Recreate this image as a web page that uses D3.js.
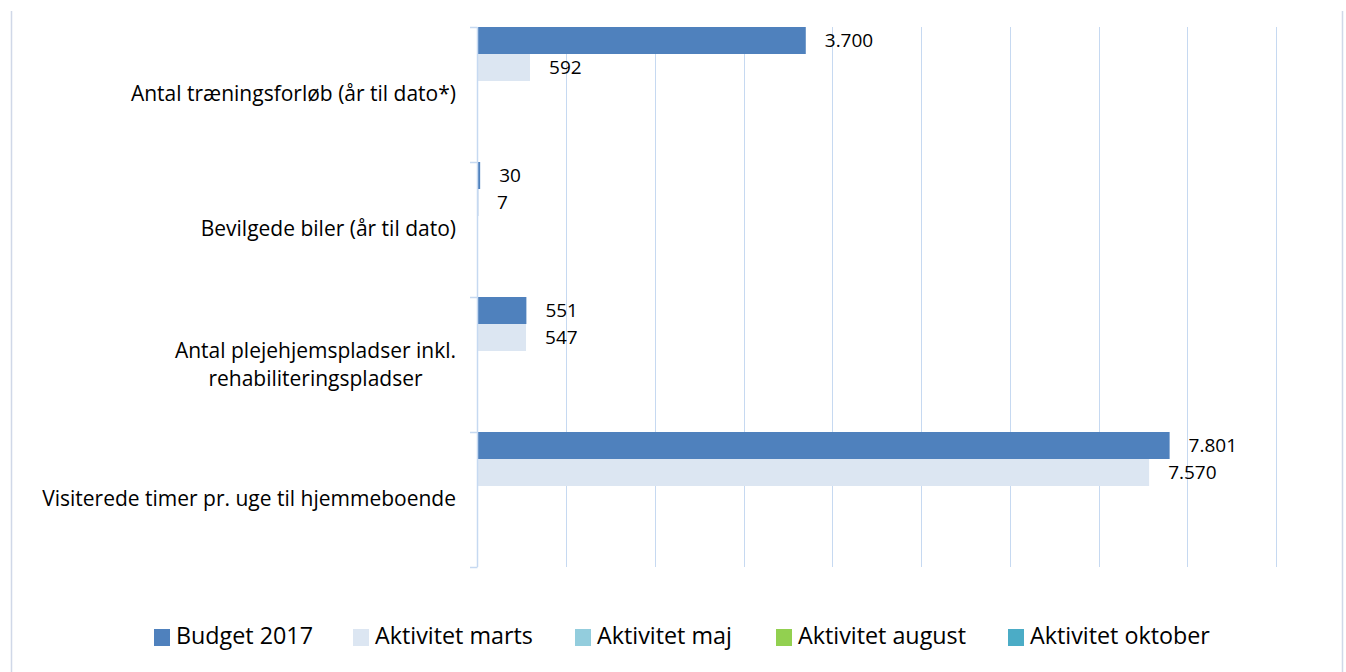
<!DOCTYPE html>
<html>
<head>
<meta charset="utf-8">
<script src="https://cdn.jsdelivr.net/npm/d3@7"></script>
<style>
  html, body { margin: 0; padding: 0; background: #fff; }
  svg { display: block; }
</style>
</head>
<body>
<svg id="chart" width="1346" height="672"></svg>
<script>
const categories = [
  "Antal træningsforløb (år til dato*)",
  "Bevilgede biler (år til dato)",
  "Antal plejehjemspladser inkl. rehabiliteringspladser",
  "Visiterede timer pr. uge til hjemmeboende"
];
const categoryLines = [
  ["Antal træningsforløb (år til dato*)"],
  ["Bevilgede biler (år til dato)"],
  ["Antal plejehjemspladser inkl.", "rehabiliteringspladser"],
  ["Visiterede timer pr. uge til hjemmeboende"]
];
const seriesNames = ["Budget 2017", "Aktivitet marts", "Aktivitet maj", "Aktivitet august", "Aktivitet oktober"];
const seriesColors = ["#4F81BD", "#DCE6F2", "#93CDDD", "#92D050", "#4BACC6"];
const budget2017 = [3700, 30, 551, 7801];
const aktivitetMarts = [592, 7, 547, 7570];
const aktivitetMaj = [null, null, null, null];
const aktivitetAugust = [null, null, null, null];
const aktivitetOktober = [null, null, null, null];
const seriesValues = [budget2017, aktivitetMarts, aktivitetMaj, aktivitetAugust, aktivitetOktober];
const xTicks = [0, 1000, 2000, 3000, 4000, 5000, 6000, 7000, 8000, 9000];

const fmt = v => d3.format(",")(v).replace(/,/g, ".");

const svg = d3.select("#chart");
const gridColor = "#C6D9F1";

// chart border (left/right)
svg.append("line").attr("x1", 11.5).attr("x2", 11.5).attr("y1", 11).attr("y2", 672)
  .attr("stroke", "#D0D8E8").attr("stroke-width", 1.5);
svg.append("line").attr("x1", 1342.5).attr("x2", 1342.5).attr("y1", 11).attr("y2", 672)
  .attr("stroke", "#D0D8E8").attr("stroke-width", 1.5);

const x = d3.scaleLinear().domain([0, 9000]).range([477.5, 1276]);
const y = d3.scaleBand().domain(categories).range([27, 567]).padding(0);
const ySub = d3.scaleBand().domain(seriesNames).range([0, y.bandwidth()]).padding(0);

// gridlines
svg.append("g").selectAll("line").data(xTicks.slice(1)).join("line")
  .attr("x1", d => Math.round(x(d)) + 0.5).attr("x2", d => Math.round(x(d)) + 0.5)
  .attr("y1", 27).attr("y2", 567)
  .attr("stroke", gridColor).attr("stroke-width", 1);

// bars
const bars = [];
categories.forEach((c, ci) => {
  seriesNames.forEach((s, si) => {
    const v = seriesValues[si][ci];
    if (v != null) bars.push({c, s, v, color: seriesColors[si]});
  });
});
svg.append("g").selectAll("rect").data(bars).join("rect")
  .attr("x", x(0))
  .attr("y", d => y(d.c) + ySub(d.s))
  .attr("width", d => Math.max(1.5, x(d.v) - x(0)))
  .attr("height", ySub.bandwidth())
  .attr("fill", d => d.color);

// value labels
svg.append("g").selectAll("text").data(bars).join("text")
  .attr("x", d => x(d.v) + 19)
  .attr("y", d => y(d.c) + ySub(d.s) + ySub.bandwidth() / 2 + 1)
  .attr("dominant-baseline", "middle")
  .attr("font-family", "'Open Sans', sans-serif")
  .attr("font-size", 19)
  .attr("fill", "#000")
  .text(d => fmt(d.v));

// vertical axis line with ticks
const axis = d3.axisLeft(y).tickSize(0).tickFormat("");
const axG = svg.append("g").attr("transform", `translate(${x(0)},0)`).call(axis);
axG.select(".domain").attr("stroke", gridColor).attr("stroke-width", 1.5).attr("d", `M0,27V567`);
const bounds = [27].concat(categories.map(c => y(c) + y.bandwidth()));
svg.append("g").selectAll("line").data(bounds).join("line")
  .attr("x1", 470).attr("x2", x(0)).attr("y1", d => d + 0.5).attr("y2", d => d + 0.5)
  .attr("stroke", gridColor).attr("stroke-width", 1.5);

// category labels
const catFont = "'Open Sans', sans-serif";
const catG = svg.append("g");
const probe = catG.append("text").attr("font-family", catFont).attr("font-size", 20)
  .text(categoryLines[3][0]);
const catSize = 20 * 414 / probe.node().getComputedTextLength();
probe.remove();
categories.forEach((c, ci) => {
  const lines = categoryLines[ci];
  const cy = y(c) + y.bandwidth() / 2;
  const lh = 28;
  const t = catG.append("text").attr("font-family", catFont).attr("font-size", catSize)
    .attr("fill", "#000").attr("dominant-baseline", "middle");
  if (lines.length === 1) {
    t.attr("x", 456).attr("y", cy + 1).attr("text-anchor", "end").text(lines[0]);
  } else {
    t.text(lines[0]);
    const w = t.node().getComputedTextLength();
    t.text(null);
    const cx = 456 - w / 2;
    lines.forEach((l, li) => {
      t.append("tspan").attr("x", cx).attr("text-anchor", "middle")
        .attr("y", cy + 1 + (li - (lines.length - 1) / 2) * lh).text(l);
    });
  }
});

// legend
const legendX = [154, 353, 575, 776, 1008];
const lg = svg.append("g");
seriesNames.forEach((s, i) => {
  lg.append("rect").attr("x", legendX[i]).attr("y", 629).attr("width", 16).attr("height", 17)
    .attr("fill", seriesColors[i]);
  lg.append("text").attr("x", legendX[i] + 22).attr("y", 638).attr("dominant-baseline", "middle")
    .attr("font-family", catFont).attr("font-size", catSize * 1.11).attr("fill", "#000").text(s);
});
</script>
</body>
</html>
